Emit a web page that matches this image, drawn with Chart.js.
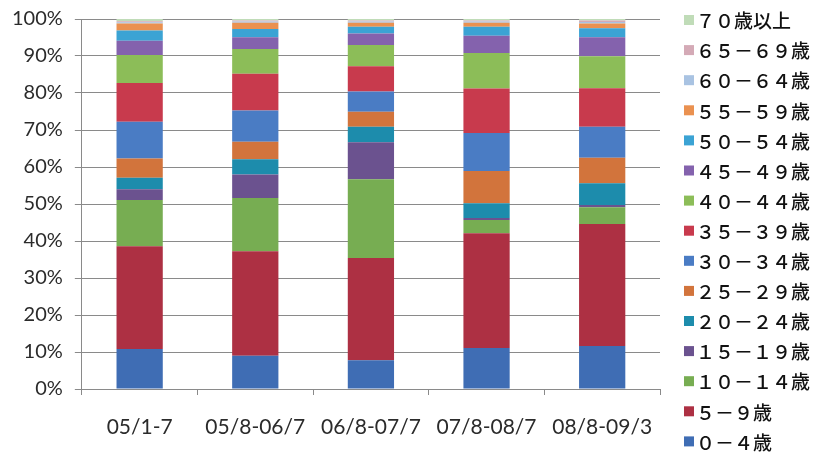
<!DOCTYPE html>
<html>
<head>
<meta charset="utf-8">
<script src="https://cdn.jsdelivr.net/npm/chart.js@4"></script>
<style>
  html, body { margin: 0; padding: 0; background: #fff; }
  #wrap { width: 814px; height: 452px; }
</style>
</head>
<body>
<div id="wrap"><canvas id="chart" width="814" height="452"></canvas></div>
<script>
let periods = ['05/1-7', '05/8-06/7', '06/8-07/7', '07/8-08/7', '08/8-09/3'];
let yTicks = [0, 10, 20, 30, 40, 50, 60, 70, 80, 90, 100];

// 年齢層ごとの割合 (%)
let age0_4   = [10.8,  9.0,  7.8, 11.1, 11.6];
let age5_9   = [27.8, 28.2, 27.6, 31.0, 33.0];
let age10_14 = [12.5, 14.4, 21.3,  3.6,  4.5];
let age15_19 = [ 2.9,  6.4, 10.0,  0.5,  0.6];
let age20_24 = [ 3.1,  4.1,  4.2,  4.0,  5.9];
let age25_29 = [ 5.2,  4.7,  4.0,  8.7,  6.9];
let age30_34 = [ 9.9,  8.5,  5.5, 10.3,  8.4];
let age35_39 = [10.5,  9.9,  6.8, 12.0, 10.4];
let age40_44 = [ 7.6,  6.7,  5.8,  9.6,  8.6];
let age45_49 = [ 3.8,  3.2,  3.1,  4.7,  5.2];
let age50_54 = [ 2.8,  2.2,  1.8,  2.4,  2.4];
let age55_59 = [ 1.9,  1.7,  1.1,  1.1,  1.3];
let age60_64 = [ 0.3,  0.3,  0.3,  0.3,  0.4];
let age65_69 = [ 0.3,  0.3,  0.3,  0.3,  0.4];
let age70up  = [ 0.6,  0.4,  0.4,  0.4,  0.4];

let labels = ['０－４歳', '５－９歳', '１０－１４歳', '１５－１９歳', '２０－２４歳', '２５－２９歳',
    '３０－３４歳', '３５－３９歳', '４０－４４歳', '４５－４９歳', '５０－５４歳', '５５－５９歳',
    '６０－６４歳', '６５－６９歳', '７０歳以上'];
let series = [age0_4, age5_9, age10_14, age15_19, age20_24, age25_29, age30_34, age35_39,
    age40_44, age45_49, age50_54, age55_59, age60_64, age65_69, age70up];
let colors = ['#3f6db4', '#ad3043', '#77ad52', '#6b528f', '#1d8cac', '#d2743c',
    '#4a7cc4', '#c83a4d', '#8cbd58', '#8462ad', '#3ba3d4', '#ea9150',
    '#a9c3e2', '#d4aab6', '#c0dcb8'];

// 凡例は右側に1列で描く (上から70歳以上)
let sideLegend = {
    id: 'sideLegend',
    afterDraw(chart) {
        let c = chart.ctx;
        let sets = chart.data.datasets;
        let x = chart.chartArea.right + 24;
        let y0 = 20, step = 30.1;
        c.save();
        c.font = '500 19px "Noto Sans CJK JP"';
        c.textBaseline = 'middle';
        for (let i = 0; i < sets.length; i++) {
            let ds = sets[sets.length - 1 - i];
            let y = y0 + i * step;
            c.fillStyle = ds.backgroundColor;
            c.fillRect(x, y - 5, 10, 10);
            c.fillStyle = '#111';
            c.fillText(ds.label, x + 12, y + 1);
        }
        c.restore();
    }
};

let ctx = document.getElementById('chart').getContext('2d');

let data = {
    labels: periods,
    datasets: series.map((vals, i) => ({
        label: labels[i],
        data: vals,
        backgroundColor: colors[i],
        borderWidth: 0,
        barPercentage: 0.4,
        categoryPercentage: 1.0
    }))
};

let options = {
    responsive: false,
    animation: false,
    layout: { padding: { left: 0, top: 2, right: 154, bottom: 0 } },
    scales: {
        x: {
            stacked: true,
            afterFit: axis => { axis.height = 63; },
            grid: {
                drawOnChartArea: false,
                color: '#8a8a8a',
                tickLength: 6
            },
            border: { color: '#8a8a8a' },
            ticks: {
                color: '#2b2b2b',
                padding: 20,
                maxRotation: 0,
                font: { family: 'Lato', size: 21 }
            }
        },
        y: {
            stacked: true,
            min: 0,
            max: 100,
            afterBuildTicks: axis => { axis.ticks = yTicks.map(v => ({ value: v })); },
            grid: {
                color: '#8a8a8a',
                tickLength: 7
            },
            border: { color: '#8a8a8a' },
            ticks: {
                color: '#2b2b2b',
                padding: 12,
                font: { family: 'Lato', size: 20, lineHeight: 0.7 },
                callback: v => v + '%'
            }
        }
    },
    plugins: {
        tooltip: { enabled: false },
        legend: { display: false }
    }
};

let chart = new Chart(ctx, {
    type: 'bar',
    data: data,
    options: options,
    plugins: [sideLegend]
});
</script>
</body>
</html>
